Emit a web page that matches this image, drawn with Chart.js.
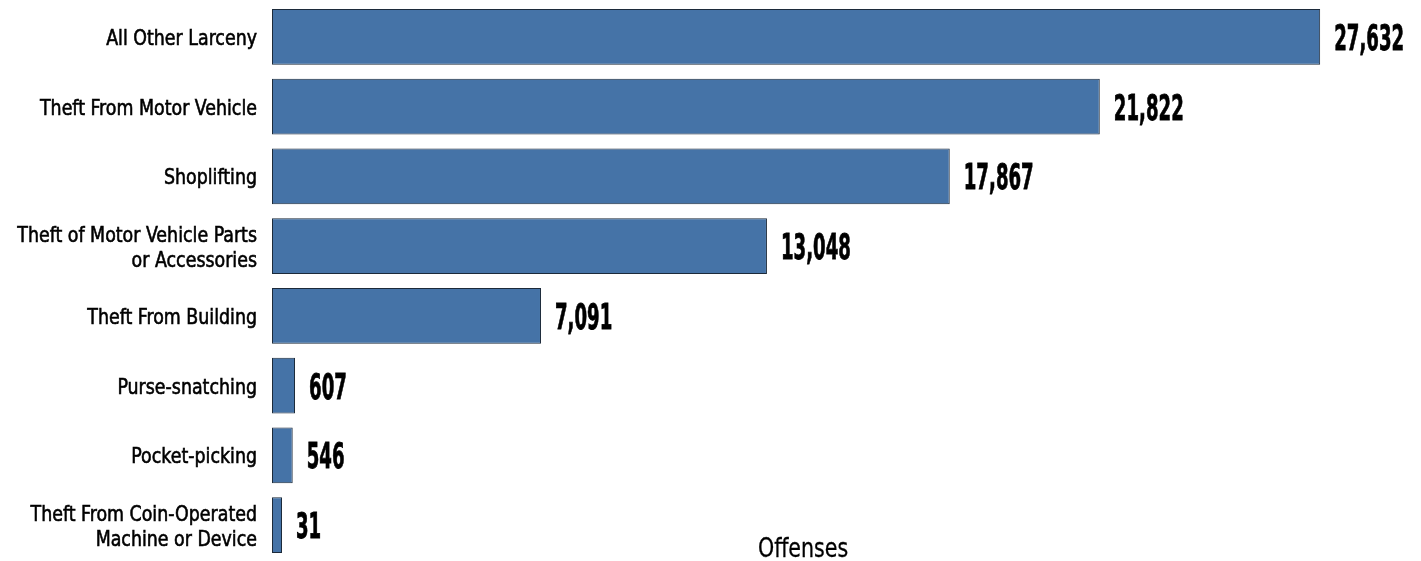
<!DOCTYPE html>
<html>
<head>
  <title>Larceny Offenses</title>
  <script src="https://cdn.jsdelivr.net/npm/chart.js"></script>
  <style>
    html, body { margin: 0; padding: 0; background: #fff; }
    #wrap { width: 1421px; height: 561px; }
  </style>
</head>
<body>
  <div id="wrap"><canvas id="larcenyChart" width="1421" height="561"></canvas></div>

  <script>
    const categories = [
      'All Other Larceny',
      'Theft From Motor Vehicle',
      'Shoplifting',
      ['Theft of Motor Vehicle Parts', 'or Accessories'],
      'Theft From Building',
      'Purse-snatching',
      'Pocket-picking',
      ['Theft From Coin-Operated', 'Machine or Device']
    ];
    const offenses = [27632, 21822, 17867, 13048, 7091, 607, 546, 31];
    const axisTitle = 'Offenses';

    const condensed = "'DejaVu Sans Condensed', 'DejaVu Sans', sans-serif";

    // draws text squeezed horizontally, so it looks like a condensed face
    function squeezed(ctx, text, x, y, sx, stroke) {
      ctx.save();
      ctx.translate(x, y);
      ctx.scale(sx, 1);
      ctx.fillText(text, 0, 0);
      if (stroke) {
        ctx.lineWidth = stroke;
        ctx.strokeText(text, 0, 0);
      }
      ctx.restore();
    }

    // category names, value labels and the axis title
    const textLayer = {
      id: 'textLayer',
      afterDatasetsDraw(chart) {
        const ctx = chart.ctx;
        const meta = chart.getDatasetMeta(0);
        const yScale = chart.scales.y;
        const area = chart.chartArea;
        ctx.save();
        ctx.fillStyle = '#000';
        ctx.strokeStyle = '#000';
        ctx.textBaseline = 'alphabetic';

        // category names, right aligned against the bars
        ctx.font = "22px " + condensed;
        ctx.textAlign = 'right';
        categories.forEach((label, i) => {
          const lines = Array.isArray(label) ? label : [label];
          const cy = yScale.getPixelForTick(i);
          lines.forEach((line, j) => {
            const offset = (j - (lines.length - 1) / 2) * 25;
            squeezed(ctx, line, area.left - 15, cy + offset + 8, 0.88, 0.6);
          });
        });

        // values at the end of each bar
        ctx.font = "bold 36px " + condensed;
        ctx.textAlign = 'left';
        meta.data.forEach((bar, i) => {
          squeezed(ctx, offenses[i].toLocaleString('en-US'), bar.x + 14, bar.y + 13, 0.56, 0.8);
        });

        // axis title
        ctx.font = "26px " + condensed;
        ctx.textAlign = 'center';
        const mid = (area.left + chart.scales.x.getPixelForValue(Math.max(...offenses))) / 2;
        squeezed(ctx, axisTitle, mid + 7, 557, 0.88, 0.3);
        ctx.restore();
      }
    };

    new Chart(document.getElementById('larcenyChart'), {
      type: 'bar',
      data: {
        labels: categories,
        datasets: [{
          data: offenses,
          backgroundColor: '#4573a7',
          borderColor: '#1c2a3a',
          borderWidth: 1,
          borderSkipped: false,
          categoryPercentage: 1,
          barPercentage: 0.8,
          minBarLength: 10
        }]
      },
      options: {
        indexAxis: 'y',
        responsive: false,
        animation: false,
        layout: { padding: { top: 2, bottom: 1, right: 11 } },
        plugins: {
          legend: { display: false },
          tooltip: { enabled: false }
        },
        scales: {
          x: {
            display: false,
            min: 0,
            max: 30000
          },
          y: {
            grid: { display: false, drawTicks: false },
            border: { display: false },
            ticks: { display: false },
            afterFit(scale) { scale.width = 272; }
          }
        }
      },
      plugins: [textLayer]
    });
  </script>
</body>
</html>
